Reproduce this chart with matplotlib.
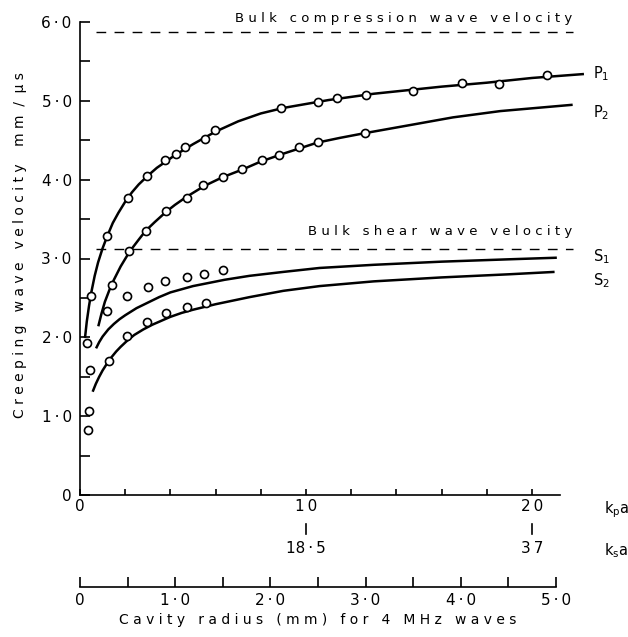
import numpy as np
import matplotlib
matplotlib.use("Agg")
import matplotlib.pyplot as plt

# velocidades de referencia (mm/us)
v_bulk_p = 5.87
v_bulk_s = 3.12

# curvas teoricas (kpa, velocidad)
p1_curve_x = [0.22, 0.3, 0.4, 0.5, 0.65, 0.8, 1.0, 1.2, 1.45, 1.7, 2.0, 2.3, 2.6, 3.0, 3.4, 3.8, 4.2, 4.6, 5.0,
              5.5, 6.0, 7.0, 8.0, 9.0, 10.0, 11.0, 12.0, 13.0, 14.0, 16.0, 18.0, 20.0, 22.3]
p1_curve_y = [1.99, 2.2, 2.4, 2.57, 2.78, 2.95, 3.13, 3.28, 3.45, 3.58, 3.72, 3.84, 3.94, 4.05, 4.15, 4.23, 4.31, 4.38, 4.45,
              4.53, 4.61, 4.74, 4.84, 4.91, 4.96, 5.01, 5.05, 5.09, 5.12, 5.18, 5.23, 5.29, 5.34]
p2_curve_x = [0.81, 0.95, 1.1, 1.3, 1.5, 1.8, 2.2, 2.6, 2.9, 3.3, 3.8, 4.2, 4.7, 5.5, 6.3, 7.2, 8.0, 9.0, 10.5,
              11.5, 12.6, 14.75, 16.5, 18.6, 20.2, 21.8]
p2_curve_y = [2.14, 2.3, 2.45, 2.6, 2.73, 2.9, 3.09, 3.24, 3.35, 3.46, 3.59, 3.68, 3.78, 3.92, 4.03, 4.13, 4.23, 4.33, 4.47,
              4.53, 4.59, 4.70, 4.79, 4.87, 4.91, 4.95]
s1_curve_x = [0.71, 0.85, 1.0, 1.25, 1.5, 1.75, 2.0, 2.5, 3.0, 3.5, 4.0, 5.0, 6.4, 7.5, 9.0, 10.6, 13.0, 16.0, 19.0, 21.1]
s1_curve_y = [1.86, 1.94, 2.01, 2.1, 2.17, 2.23, 2.28, 2.37, 2.44, 2.51, 2.57, 2.65, 2.73, 2.78, 2.83, 2.88, 2.92, 2.96, 2.99, 3.01]
s2_curve_x = [0.56, 0.7, 0.85, 1.0, 1.2, 1.4, 1.6, 1.8, 2.06, 2.4, 2.8, 3.2, 3.6, 4.0, 4.5, 5.0, 6.0, 7.5, 9.0,
              10.6, 13.0, 16.0, 19.0, 21.0]
s2_curve_y = [1.31, 1.41, 1.5, 1.58, 1.67, 1.75, 1.82, 1.88, 1.95, 2.03, 2.1, 2.16, 2.21, 2.26, 2.31, 2.35, 2.42, 2.51, 2.59,
              2.65, 2.71, 2.76, 2.80, 2.83]

# puntos medidos
p1_x = [0.47, 1.18, 2.11, 2.95, 3.76, 4.23, 4.65, 5.53, 5.97, 8.89, 10.54, 11.36, 12.64, 14.75, 16.89, 18.55, 20.65]
p1_y = [2.53, 3.29, 3.77, 4.05, 4.25, 4.33, 4.41, 4.52, 4.63, 4.91, 4.98, 5.04, 5.08, 5.13, 5.22, 5.21, 5.33]
p2_x = [1.21, 1.40, 2.18, 2.92, 3.81, 4.72, 5.43, 6.31, 7.15, 8.04, 8.82, 9.69, 10.54, 12.61]
p2_y = [2.34, 2.66, 3.10, 3.35, 3.60, 3.77, 3.93, 4.03, 4.13, 4.25, 4.31, 4.42, 4.48, 4.59]
s1_x = [2.09, 3.02, 3.76, 4.72, 5.50, 6.34]
s1_y = [2.53, 2.64, 2.72, 2.77, 2.80, 2.85]
s2_x = [1.30, 2.09, 2.98, 3.81, 4.72, 5.56]
s2_y = [1.70, 2.02, 2.19, 2.31, 2.38, 2.44]
low_x = [0.32, 0.44, 0.41, 0.37]
low_y = [1.93, 1.58, 1.06, 0.83]

# ejes
y_ticks = [0, 1, 2, 3, 4, 5, 6]
y_labels = ["0", "1\u2009·\u20090", "2\u2009·\u20090", "3\u2009·\u20090", "4\u2009·\u20090", "5\u2009·\u20090", "6\u2009·\u20090"]
kpa_ticks = [0, 10, 20]
kpa_labels = ["0", "1\u20090", "2\u20090"]
ksa_pos = [10, 20]
ksa_labels = ["18\u2009·\u20095", "3\u20097"]
radius_ticks = [0, 1, 2, 3, 4, 5]
radius_labels = ["0", "1\u2009·\u20090", "2\u2009·\u20090", "3\u2009·\u20090", "4\u2009·\u20090", "5\u2009·\u20090"]

W, H = 628, 637
fig = plt.figure(figsize=(W / 100, H / 100), dpi=100)
ax = fig.add_axes([80 / W, 1 - 495 / H, 480 / W, 473 / H])
ax.set_xlim(0, 21.24)
ax.set_ylim(0, 6)
for s in ["top", "right"]:
    ax.spines[s].set_visible(False)
for s in ["left", "bottom"]:
    ax.spines[s].set_linewidth(1.2)

ax.set_yticks(y_ticks)
ax.set_yticklabels(y_labels)
ax.set_yticks(np.arange(0.5, 6, 1.0), minor=True)
ax.set_xticks(kpa_ticks)
ax.set_xticklabels(kpa_labels)
ax.set_xticks(np.arange(2, 21, 2), minor=True)
ax.tick_params(axis="y", which="both", direction="in", length=7, width=1.2, labelsize=11, pad=6)
ax.tick_params(axis="x", which="both", direction="in", length=4, width=1.2, labelsize=11, pad=3)

lw = 1.8
for cx, cy in [(p1_curve_x, p1_curve_y), (p2_curve_x, p2_curve_y),
               (s1_curve_x, s1_curve_y), (s2_curve_x, s2_curve_y)]:
    ax.plot(cx, cy, color="black", lw=lw, clip_on=False, solid_capstyle="butt", solid_joinstyle="round")

mk = dict(ls="none", marker="o", ms=5.8, mfc="white", mec="black", mew=1.2, zorder=3, clip_on=False)
ax.plot(p1_x, p1_y, **mk)
ax.plot(p2_x, p2_y, **mk)
ax.plot(s1_x, s1_y, **mk)
ax.plot(s2_x, s2_y, **mk)
ax.plot(low_x, low_y, **mk)

ax.plot([0.7, 21.8], [v_bulk_p, v_bulk_p], color="black", lw=1.0, ls=(0, (7, 6)), clip_on=False)
ax.plot([0.7, 21.8], [v_bulk_s, v_bulk_s], color="black", lw=1.0, ls=(0, (7, 6)), clip_on=False)
ax.text(21.8, 6.05, "B u l k   c o m p r e s s i o n   w a v e   v e l o c i t y",
        ha="right", va="center", fontsize=9.5, clip_on=False)
ax.text(21.8, 3.34, "B u l k   s h e a r   w a v e   v e l o c i t y",
        ha="right", va="center", fontsize=9.5, clip_on=False)

ax.text(22.7, 5.35, r"P$_1$", ha="left", va="center", fontsize=10.5)
ax.text(22.7, 4.85, r"P$_2$", ha="left", va="center", fontsize=10.5)
ax.text(22.7, 3.02, r"S$_1$", ha="left", va="center", fontsize=10.5)
ax.text(22.7, 2.72, r"S$_2$", ha="left", va="center", fontsize=10.5)

# escala k_s a
for xp, lab in zip(ksa_pos, ksa_labels):
    ax.plot([xp, xp], [-0.37, -0.49], color="black", lw=1.2, clip_on=False)
    ax.text(xp, -0.68, lab, ha="center", va="center", fontsize=11)
ax.text(23.2, -0.19, r"k$_{\rm p}$a", ha="left", va="center", fontsize=10.5)
ax.text(23.2, -0.70, r"k$_{\rm s}$a", ha="left", va="center", fontsize=10.5)

fig.text(20 / W, 1 - 245 / H, "C r e e p i n g   w a v e   v e l o c i t y    m m  /  μ s",
         rotation=90, ha="center", va="center", fontsize=10)

# eje del radio de la cavidad
ax2 = fig.add_axes([80 / W, 1 - 587 / H, 476 / W, 0.01])
ax2.set_facecolor("none")
for s in ["top", "right", "left"]:
    ax2.spines[s].set_visible(False)
ax2.spines["bottom"].set_linewidth(1.2)
ax2.set_xlim(0, 5)
ax2.set_yticks([])
ax2.set_xticks(radius_ticks)
ax2.set_xticklabels(radius_labels)
ax2.set_xticks(np.arange(0.5, 5, 1.0), minor=True)
ax2.tick_params(axis="x", which="both", direction="in", length=7, width=1.2, labelsize=11, pad=4)
ax2.set_xlabel("C a v i t y   r a d i u s   ( m m )   f o r   4   M H z   w a v e s",
               fontsize=10, labelpad=4)

fig.savefig("out.png", dpi=100)
